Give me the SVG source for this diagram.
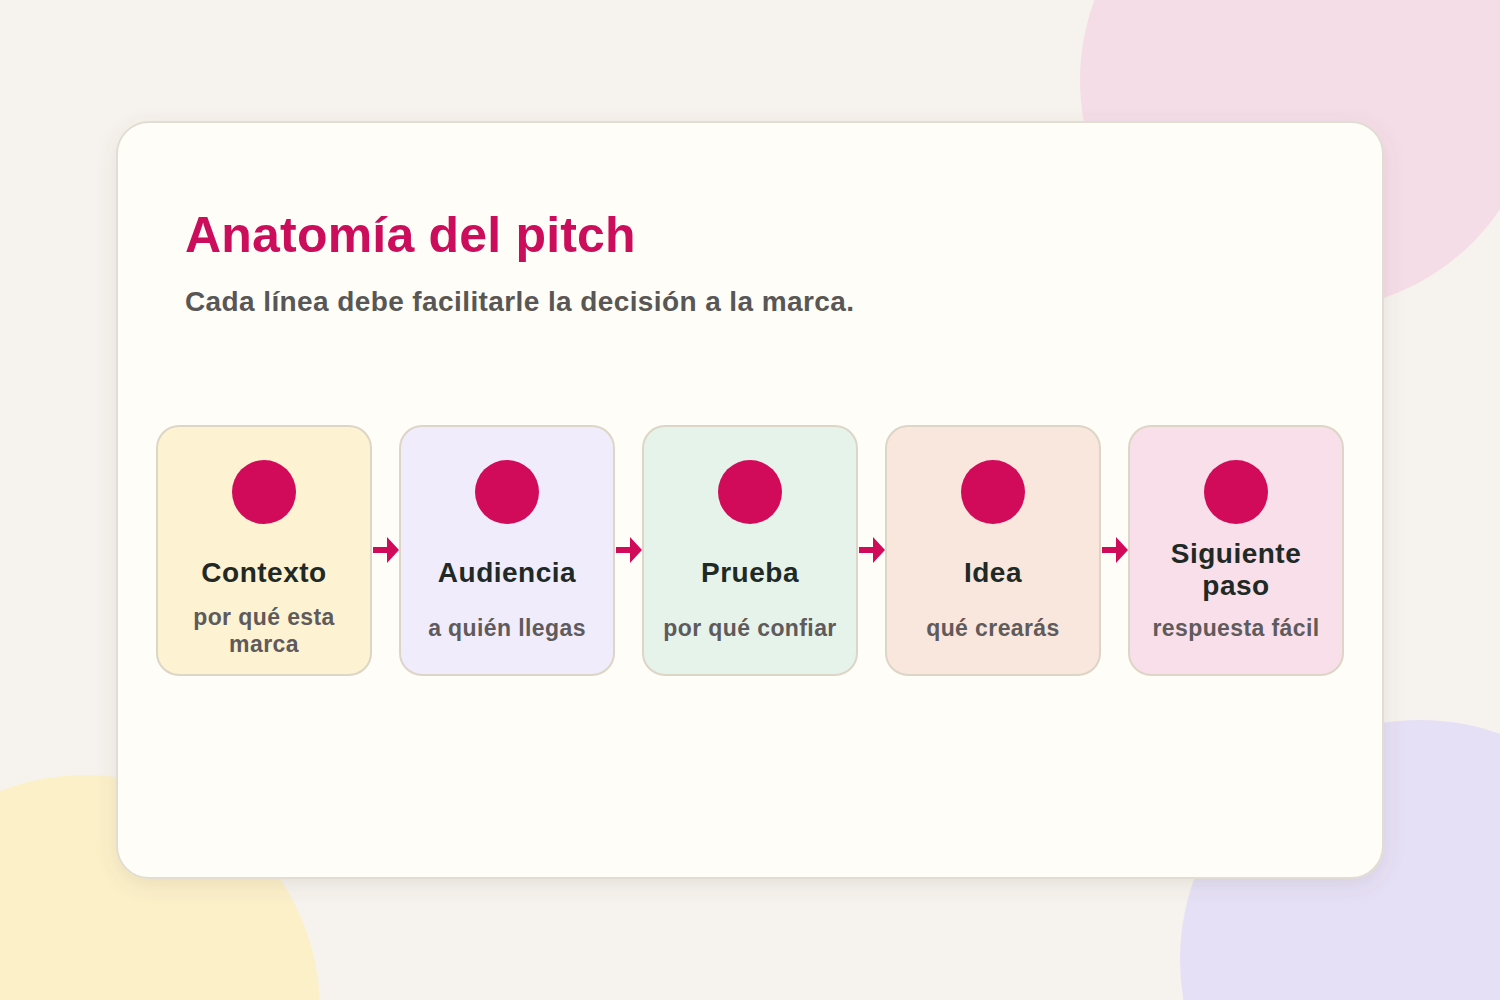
<svg xmlns="http://www.w3.org/2000/svg" width="1500" height="1000" viewBox="0 0 1500 1000">
<defs>
<style>
.node rect{stroke:#ddd5c6;stroke-width:2}
.dot{fill:#d10a5a}
.t{font-family:"Liberation Sans",Arial,sans-serif;font-weight:bold;font-size:28px;letter-spacing:0.5px;fill:#1f2925;text-anchor:middle}
.s{font-family:"Liberation Sans",Arial,sans-serif;font-weight:bold;font-size:23px;letter-spacing:0.4px;fill:#5f5a5b;text-anchor:middle}
.arr{fill:#d10a5a}
</style>
<filter id="sh" x="-10%" y="-10%" width="120%" height="130%">
<feDropShadow dx="0" dy="6" stdDeviation="10" flood-color="#6b5a40" flood-opacity="0.12"/>
</filter>
</defs>
<rect width="1500" height="1000" fill="#f6f3ee"/>
<circle cx="1310" cy="80" r="230" fill="#f5dde8"/>
<circle cx="85" cy="1010" r="235" fill="#fcf0c9"/>
<circle cx="1420" cy="960" r="240" fill="#e6e0f6"/>
<rect x="117" y="122" width="1266" height="756" rx="32" fill="#fffdf8" stroke="#e2ddd2" stroke-width="2" filter="url(#sh)"/>
<text x="185" y="252" font-family="Liberation Sans,Arial,sans-serif" font-weight="bold" font-size="50" letter-spacing="0.2" fill="#cc0d5b">Anatomía del pitch</text>
<text x="185" y="311" font-family="Liberation Sans,Arial,sans-serif" font-weight="bold" font-size="28" letter-spacing="0.4" fill="#595755">Cada línea debe facilitarle la decisión a la marca.</text>
<g id="connectors">
<path class="arr" d="M373 547h14v-10l12 13l-12 13v-10h-14z"/>
<path class="arr" d="M616 547h14v-10l12 13l-12 13v-10h-14z"/>
<path class="arr" d="M859 547h14v-10l12 13l-12 13v-10h-14z"/>
<path class="arr" d="M1102 547h14v-10l12 13l-12 13v-10h-14z"/>
</g>
<g id="node-contexto" class="node">
<rect x="157" y="426" width="214" height="249" rx="22" fill="#fdf3d2"/>
<circle class="dot" cx="264" cy="492" r="32"/>
<text class="t" x="264" y="582">Contexto</text>
<text class="s" x="264" y="625">por qué esta</text>
<text class="s" x="264" y="652">marca</text>
</g>
<g id="node-audiencia" class="node">
<rect x="400" y="426" width="214" height="249" rx="22" fill="#f0ecfb"/>
<circle class="dot" cx="507" cy="492" r="32"/>
<text class="t" x="507" y="582">Audiencia</text>
<text class="s" x="507" y="636">a quién llegas</text>
</g>
<g id="node-prueba" class="node">
<rect x="643" y="426" width="214" height="249" rx="22" fill="#e6f3ea"/>
<circle class="dot" cx="750" cy="492" r="32"/>
<text class="t" x="750" y="582">Prueba</text>
<text class="s" x="750" y="636">por qué confiar</text>
</g>
<g id="node-idea" class="node">
<rect x="886" y="426" width="214" height="249" rx="22" fill="#f9e6dd"/>
<circle class="dot" cx="993" cy="492" r="32"/>
<text class="t" x="993" y="582">Idea</text>
<text class="s" x="993" y="636">qué crearás</text>
</g>
<g id="node-siguiente" class="node">
<rect x="1129" y="426" width="214" height="249" rx="22" fill="#f8dfe9"/>
<circle class="dot" cx="1236" cy="492" r="32"/>
<text class="t" x="1236" y="563">Siguiente</text>
<text class="t" x="1236" y="595">paso</text>
<text class="s" x="1236" y="636">respuesta fácil</text>
</g>
</svg>
